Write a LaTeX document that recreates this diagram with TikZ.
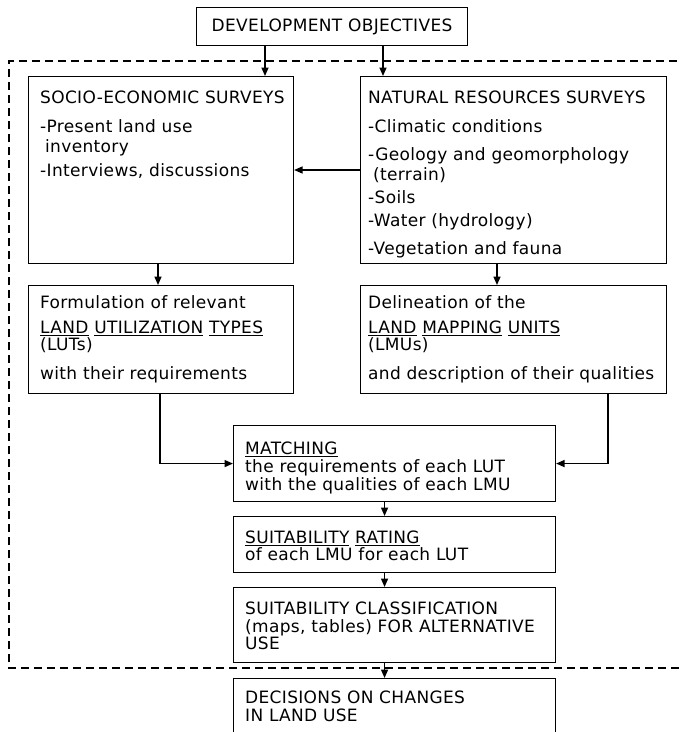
\documentclass[tikz,border=0pt]{standalone}
\usepackage{fontspec}
\setmainfont{DejaVu Sans}[LetterSpace=2]
\usetikzlibrary{arrows.meta}
\begin{document}
\begin{tikzpicture}[x=1pt,y=-1pt,
  box/.style={draw, line width=1.1pt, inner sep=0pt, anchor=north west},
  txt/.style={anchor=mid west, inner sep=0pt, yshift=-4pt, font=\fontsize{17}{18}\selectfont},
  arr/.style={line width=1.5pt, -{Triangle[length=8.5pt,width=7pt]}},
  dashline/.style={line width=1.1pt, dash pattern=on 8pt off 5pt}]
\useasboundingbox (0,0) rectangle (681,732);
% boxes
\node[box, minimum width=271pt, minimum height=38pt, font=\fontsize{17}{18}\selectfont] (dev) at (196,7) {DEVELOPMENT OBJECTIVES};
\node[box, minimum width=265pt, minimum height=187pt] (socio) at (28,76) {};
\node[box, minimum width=306pt, minimum height=187pt] (nat) at (360,76) {};
\node[box, minimum width=265pt, minimum height=108pt] (form) at (28,285) {};
\node[box, minimum width=306pt, minimum height=108pt] (delin) at (360,285) {};
\node[box, minimum width=322pt, minimum height=76pt] (match) at (233,425) {};
\node[box, minimum width=322pt, minimum height=56pt] (rate) at (233,516) {};
\node[box, minimum width=322pt, minimum height=75pt] (class) at (233,587) {};
\node[box, minimum width=322pt, minimum height=80pt] (dec) at (233,678) {};
% dashed frame
\coordinate (fr1) at (690,61);
\coordinate (fr2) at (9,61);
\coordinate (fr3) at (9,668);
\coordinate (fr4) at (690,668);
\draw[dashline] (fr1) -- (fr2) -- (fr3) -- (fr4);
% texts
\node[txt] (s1) at (40,97) {SOCIO-ECONOMIC SURVEYS};
\node[txt] (s2) at (40,126) {-Present land use};
\node[txt] (s3) at (45,146) {inventory};
\node[txt] (s4) at (40,170) {-Interviews, discussions};
\node[txt] (n1) at (368,97) {NATURAL RESOURCES SURVEYS};
\node[txt] (n2) at (368,126) {-Climatic conditions};
\node[txt] (n3) at (368,154) {-Geology and geomorphology};
\node[txt] (n4) at (373,174) {(terrain)};
\node[txt] (n5) at (368,197) {-Soils};
\node[txt] (n6) at (368,220) {-Water (hydrology)};
\node[txt] (n7) at (368,248) {-Vegetation and fauna};
\node[txt] (f1) at (40,302) {Formulation of relevant};
\node[txt] (f2) at (40,327) {\underline{LAND} \underline{UTILIZATION} \underline{TYPES}};
\node[txt] (f3) at (40,344) {(LUTs)};
\node[txt] (f4) at (40,373) {with their requirements};
\node[txt] (d1) at (368,302) {Delineation of the};
\node[txt] (d2) at (368,327) {\underline{LAND} \underline{MAPPING} \underline{UNITS}};
\node[txt] (d3) at (368,344) {(LMUs)};
\node[txt] (d4) at (368,373) {and description of their qualities};
\node[txt] (m1) at (245,448) {\underline{MATCHING}};
\node[txt] (m2) at (245,466) {the requirements of each LUT};
\node[txt] (m3) at (245,484) {with the qualities of each LMU};
\node[txt] (r1) at (245,537) {\underline{SUITABILITY} \underline{RATING}};
\node[txt] (r2) at (245,554) {of each LMU for each LUT};
\node[txt] (c1) at (245,608) {SUITABILITY CLASSIFICATION};
\node[txt] (c2) at (245,626) {(maps, tables) FOR ALTERNATIVE};
\node[txt] (c3) at (245,643) {USE};
\node[txt] (e1) at (245,697) {DECISIONS ON CHANGES};
\node[txt] (e2) at (245,715) {IN LAND USE};
% connectors
\draw[arr] ([xshift=69pt]dev.south west) -- ([xshift=237pt]socio.north west);
\draw[arr] ([xshift=187pt]dev.south west) -- ([xshift=23pt]nat.north west);
\draw[arr] ([yshift=-94pt]nat.north west) -- ([yshift=-94pt]socio.north east);
\draw[arr] ([xshift=130pt]socio.south west) -- ([xshift=130pt]form.north west);
\draw[arr] ([xshift=137pt]nat.south west) -- ([xshift=137pt]delin.north west);
\draw[arr] ([xshift=132pt]form.south west) |- (match.west);
\draw[arr] ([xshift=248pt]delin.south west) |- (match.east);
\draw[arr] ([xshift=-10pt]match.south) -- ([xshift=-10pt]rate.north);
\draw[arr] ([xshift=-10pt]rate.south) -- ([xshift=-10pt]class.north);
\draw[arr] ([xshift=-10pt]class.south) -- ([xshift=-10pt]dec.north);
\end{tikzpicture}
\end{document}
